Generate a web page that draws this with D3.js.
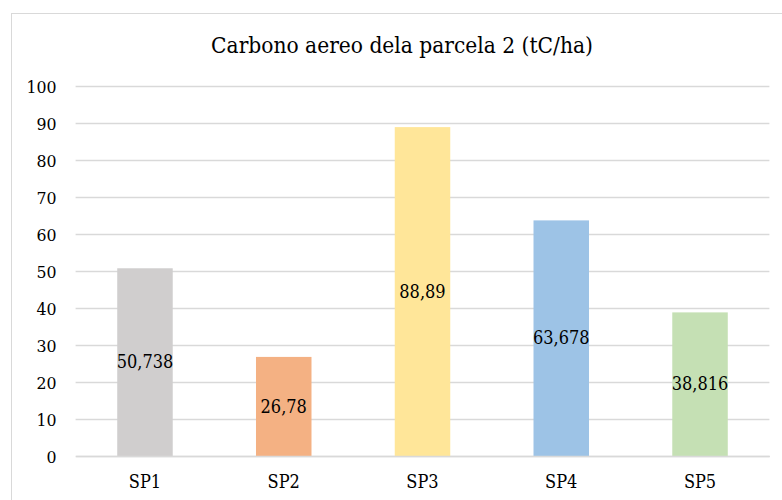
<!DOCTYPE html>
<html><head><meta charset="utf-8">
<script src="https://cdn.jsdelivr.net/npm/d3@7"></script>
<style>body{margin:0;background:#fff}svg{display:block}</style>
</head><body>
<script>
const categories = ["SP1","SP2","SP3","SP4","SP5"];
const values = [50.738, 26.78, 88.89, 63.678, 38.816];
const labels = ["50,738","26,78","88,89","63,678","38,816"];
const colors = ["#d0cece","#f4b183","#ffe699","#9dc3e6","#c5e0b4"];
const yTicks = [0,10,20,30,40,50,60,70,80,90,100];
const title = "Carbono aereo dela parcela 2 (tC/ha)";

(function(){
const FONT = "'DejaVu Serif Condensed', 'DejaVu Serif', serif";
const W = 782, H = 500;
const svg = d3.select("body").append("svg").attr("width", W).attr("height", H);
svg.append("rect").attr("x", 11.5).attr("y", 13.5).attr("width", W + 10).attr("height", H + 10)
  .attr("fill", "#fff").attr("stroke", "#d9d9d9").attr("stroke-width", 1);

const pl = 75.6, pr = 769.4, pt = 86, pb = 456;
const x = d3.scaleBand().domain(categories).range([pl, pr]).paddingInner(0.6).paddingOuter(0.3);
const y = d3.scaleLinear().domain([0, 100]).range([pb, pt]);

svg.append("text").attr("x", 402).attr("y", 53).attr("text-anchor", "middle")
  .style("font-family", FONT).style("font-stretch", "condensed").style("font-size", "22.5px").attr("fill", "#000").text(title);

const yAxis = svg.append("g").attr("transform", `translate(${pl},0)`)
  .call(d3.axisLeft(y).tickValues(yTicks).tickSize(-(pr - pl)).tickPadding(19));
yAxis.select(".domain").remove();
yAxis.selectAll(".tick line").attr("stroke", "#d9d9d9").attr("stroke-width", 1.3);
yAxis.selectAll(".tick text").style("font-family", FONT).style("font-stretch", "condensed").style("font-size", "17.5px").attr("fill", "#000").attr("dy", "0.35em");

svg.append("g").selectAll("rect").data(values).join("rect")
  .attr("x", (d, i) => x(categories[i]))
  .attr("width", x.bandwidth())
  .attr("y", d => y(d))
  .attr("height", d => y(0) - y(d))
  .attr("fill", (d, i) => colors[i]);

svg.append("g").selectAll("text").data(values).join("text")
  .attr("x", (d, i) => x(categories[i]) + x.bandwidth() / 2)
  .attr("y", d => (y(d) + y(0)) / 2)
  .attr("dy", "0.35em")
  .attr("text-anchor", "middle")
  .style("font-family", FONT).style("font-stretch", "condensed")
  .style("font-size", "18px")
  .attr("fill", "#000")
  .text((d, i) => labels[i]);

const xAxis = svg.append("g").attr("transform", `translate(0,${pb})`)
  .call(d3.axisBottom(x).tickSize(0).tickPadding(19));
xAxis.select(".domain").attr("stroke", "#d9d9d9").attr("stroke-width", 1.3);
xAxis.selectAll(".tick text").style("font-family", FONT).style("font-stretch", "condensed").style("font-size", "18px").attr("fill", "#000");
})();
</script>
</body></html>
